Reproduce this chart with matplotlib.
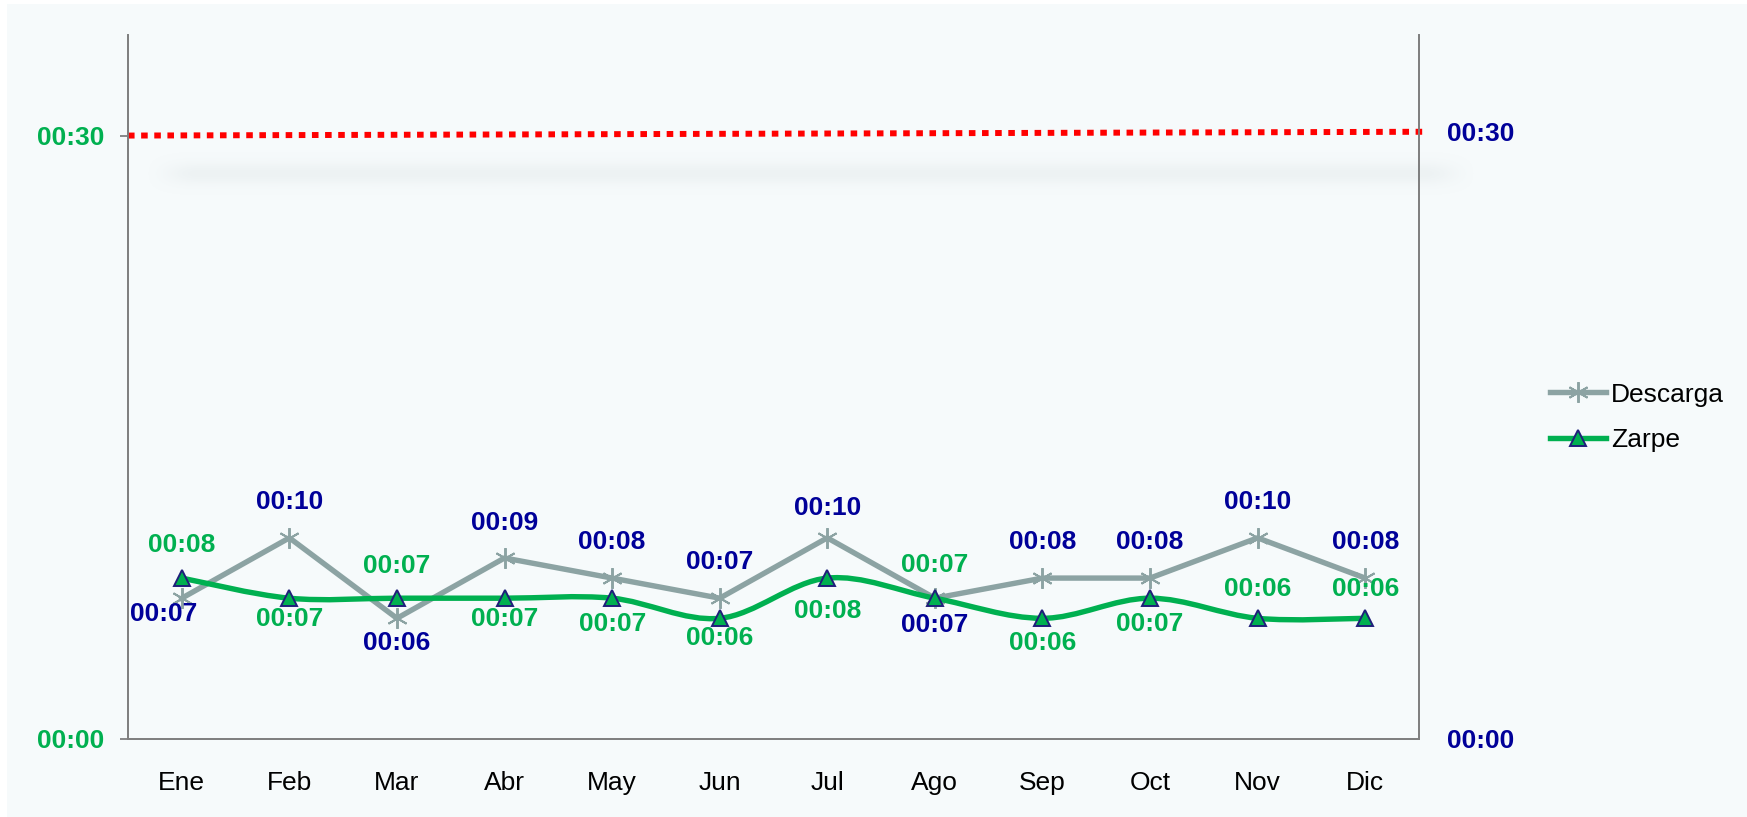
import numpy as np
import matplotlib
matplotlib.use('Agg')
import matplotlib.pyplot as plt
from matplotlib.path import Path
from matplotlib.patches import PathPatch, Rectangle
from matplotlib.lines import Line2D

plt.rcParams['font.family'] = ['Liberation Sans', 'DejaVu Sans']

# Datos (minutos)
meses = ['Ene', 'Feb', 'Mar', 'Abr', 'May', 'Jun', 'Jul', 'Ago', 'Sep', 'Oct', 'Nov', 'Dic']
descarga = [7, 10, 6, 9, 8, 7, 10, 7, 8, 8, 10, 8]
zarpe = [8, 7, 7, 7, 7, 6, 8, 7, 6, 7, 6, 6]
meta = 30

# Posicion de las etiquetas (pixeles respecto al punto)
off_descarga = [(-18, -16), (0, 36), (0, -25), (0, 35), (0, 36), (0, 36),
                (0, 30), (0, -27), (0, 36), (0, 36), (0, 36), (0, 36)]
off_zarpe = [33, -21, 32, -21, -26, -20, -33, 33, -25, -26, 29, 29]

VERDE = '#00B050'
AZUL = '#000099'
GRIS = '#8CA3A3'
FONDO = '#F6FAFB'
EJE = '#7F7F7F'
FS = 19
LW = 3.9

Y_IZQ = 35.0    # escala eje principal
Y_DER = 34.78   # escala eje secundario
W, H = 1747, 817


def fmt(v):
    return f"00:{int(round(v)):02d}"


def curva_suave(x, y):
    # linea suavizada tipo Excel (bezier con tangentes Catmull-Rom)
    pts = np.column_stack([x, y]).astype(float)
    n = len(pts)
    verts = [pts[0]]
    codes = [Path.MOVETO]
    for i in range(n - 1):
        p0 = pts[i - 1] if i > 0 else pts[i]
        p1 = pts[i]
        p2 = pts[i + 1]
        p3 = pts[i + 2] if i + 2 < n else pts[i + 1]
        verts += [p1 + (p2 - p0) / 6, p2 - (p3 - p1) / 6, p2]
        codes += [Path.CURVE4] * 3
    return Path(verts, codes)


fig = plt.figure(figsize=(W / 100, H / 100), dpi=100, facecolor='white')
fig.add_artist(Rectangle((7 / W, 0), 1, 813 / H, transform=fig.transFigure,
                         facecolor=FONDO, edgecolor='none', zorder=-10))

ax = fig.add_axes([128 / W, 78 / H, 1291 / W, 704 / H])
ax.set_facecolor('none')
ax2 = ax.twinx()

x = np.arange(len(meses))

# Descarga
ax.plot(x, descarga, color=GRIS, linewidth=LW, marker=(6, 2, 0),
        markersize=15, markeredgewidth=1.4, markeredgecolor=GRIS, zorder=3)

# Zarpe (suavizada)
ax.add_patch(PathPatch(curva_suave(x, zarpe), facecolor='none', edgecolor=VERDE,
                       linewidth=LW, capstyle='round', zorder=4))
ax.plot(x, zarpe, linestyle='none', marker='^', markersize=11.5,
        markerfacecolor=VERDE, markeredgecolor='#1F1F7A', markeredgewidth=1.4, zorder=5)

for i, v in enumerate(descarga):
    dx, dy = off_descarga[i]
    ax.annotate(fmt(v), (x[i], v), xytext=(dx, dy), textcoords='offset pixels',
                ha='center', va='center', color=AZUL, fontsize=FS, fontweight='bold',
                zorder=6)
for i, v in enumerate(zarpe):
    ax.annotate(fmt(v), (x[i], v), xytext=(0, off_zarpe[i]), textcoords='offset pixels',
                ha='center', va='center', color=VERDE, fontsize=FS, fontweight='bold',
                zorder=6)

ax.set_xlim(-0.5, 11.5)
ax.set_ylim(0, Y_IZQ)
ax.set_xticks(x)
ax.set_xticklabels(meses, fontsize=FS, color='black')
ax.set_yticks([0, 30])
ax.set_yticklabels([fmt(t) for t in [0, 30]], fontsize=FS, fontweight='bold', color=VERDE)
ax.tick_params(axis='x', length=0, pad=23)
ax.tick_params(axis='y', length=6, width=1.3, color=EJE, pad=11)

ax2.set_ylim(0, Y_DER)
ax2.set_yticks([0, 30])
ax2.set_yticklabels([fmt(t) for t in [0, 30]], fontsize=FS, fontweight='bold', color=AZUL)
ax2.tick_params(axis='y', length=0, pad=20)

# Meta: va del 00:30 del eje izquierdo al 00:30 del eje derecho
xm = [-0.5, 11.58]
ym = [meta, meta * Y_IZQ / Y_DER]
ax.plot(xm, ym, color='#FF0000', linewidth=4.3, linestyle=(0, (1.1, 1.1)),
        dash_capstyle='butt', clip_on=False, zorder=2)

# Sombra difusa de la meta (desplazada hacia abajo a la derecha)
p0 = ax.transData.transform((xm[0], ym[0]))
p1 = ax.transData.transform((xm[1], ym[1]))
sx0, sx1 = p0[0] + 15, p1[0] + 50
sy = (p0[1] + p1[1]) / 2 - 39
sw, sh = int(sx1 - sx0), 60
cx = np.arange(sw)
cy = np.arange(sh) - sh / 2
rampa = np.clip(np.minimum(cx, sw - cx) / 55.0, 0, 1)
rampa = rampa * rampa * (3 - 2 * rampa)
alfa = 0.17 * np.exp(-0.5 * (cy[:, None] / 8.0) ** 2) * rampa[None, :]
img = np.zeros((sh, sw, 4))
img[..., :3] = np.array([0.76, 0.80, 0.81])
img[..., 3] = alfa
ax_s = fig.add_axes([sx0 / W, (sy - sh / 2) / H, sw / W, sh / H], zorder=-1)
ax_s.imshow(img, aspect='auto', interpolation='bilinear')
ax_s.set_axis_off()

for a in (ax, ax2):
    a.spines['top'].set_visible(False)
    for s in ('left', 'right', 'bottom'):
        a.spines[s].set_color(EJE)
        a.spines[s].set_linewidth(1.3)

handles = [
    Line2D([], [], color=GRIS, linewidth=LW, marker=(6, 2, 0), markersize=15,
           markeredgewidth=1.4, markeredgecolor=GRIS),
    Line2D([], [], color=VERDE, linewidth=LW, marker='^', markersize=11.5,
           markerfacecolor=VERDE, markeredgecolor='#1F1F7A', markeredgewidth=1.4),
]
fig.legend(handles, ['Descarga', 'Zarpe'], loc='center left',
           bbox_to_anchor=(0.8875, 0.4893), bbox_transform=fig.transFigure,
           frameon=False, fontsize=FS, handlelength=2.1, handletextpad=0.2,
           labelspacing=0.81, borderpad=0, borderaxespad=0)

fig.savefig('out.png', dpi=100, facecolor='white')
